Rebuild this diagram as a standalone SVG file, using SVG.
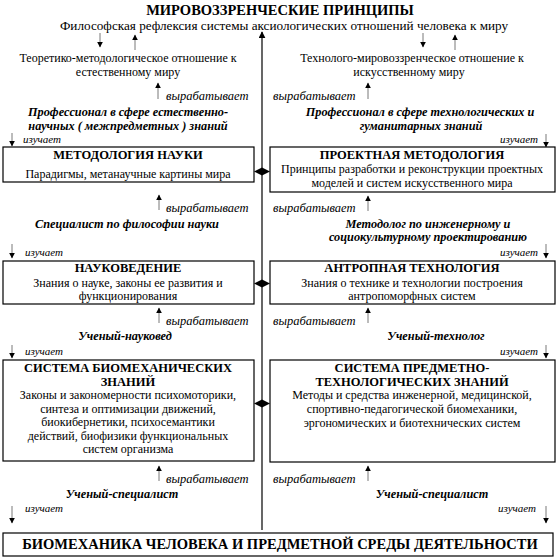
<svg xmlns="http://www.w3.org/2000/svg" width="560" height="560" viewBox="0 0 560 560">
<defs>
<style>
text{font-family:"Liberation Serif","Times New Roman",serif;fill:#000}
.h{font-size:14.5px;font-weight:bold}
.bt{font-size:12.5px;font-weight:bold}
.t{font-size:12px}
.sub{font-size:13.2px}
.bi{font-size:12.3px;font-weight:bold;font-style:italic}
.i{font-size:12.5px;font-style:italic}
.si{font-size:11px;font-style:italic}
.c{text-anchor:middle}
.e{text-anchor:end}
.box{fill:#fff;stroke:#000;stroke-width:1.2}
.ar{stroke:#555;stroke-width:0.8;fill:none}
.main{stroke:#000;stroke-width:1.2;fill:none}
.dm{fill:#000;stroke:none}
</style>
<marker id="ah" viewBox="0 0 10 10" refX="9" refY="5" markerWidth="6" markerHeight="6" markerUnits="userSpaceOnUse" orient="auto">
<path d="M0,0 L10,5 L0,10 z" fill="#000"/>
</marker>
<marker id="ahm" viewBox="0 0 10 10" refX="9" refY="5" markerWidth="7" markerHeight="7" markerUnits="userSpaceOnUse" orient="auto">
<path d="M0,0 L10,5 L0,10 z" fill="#000"/>
</marker>
</defs>

<g id="header">
<text class="h c" x="280" y="15">МИРОВОЗЗРЕНЧЕСКИЕ ПРИНЦИПЫ</text>
<text class="sub c" x="284" y="30">Философская рефлексия системы аксиологических отношений человека к миру</text>
</g>

<g id="connectors">
<line class="main" x1="262" y1="530" x2="262" y2="32" marker-end="url(#ahm)"/>
<polygon class="dm" points="254,171.5 262,167.5 270,171.5 262,175.5"/>
<polygon class="dm" points="254,283.5 262,279.5 270,283.5 262,287.5"/>
<polygon class="dm" points="254,403.5 262,399.5 270,403.5 262,407.5"/>
<line class="ar" x1="100" y1="33" x2="100" y2="47" marker-end="url(#ah)"/>
<line class="ar" x1="135" y1="50" x2="135" y2="35" marker-end="url(#ah)"/>
<line class="ar" x1="423" y1="33" x2="423" y2="47" marker-end="url(#ah)"/>
<line class="ar" x1="455" y1="50" x2="455" y2="35" marker-end="url(#ah)"/>
<line class="ar" x1="158" y1="99" x2="158" y2="83" marker-end="url(#ah)"/>
<line class="ar" x1="368" y1="99" x2="368" y2="83" marker-end="url(#ah)"/>
<line class="ar" x1="12" y1="133" x2="12" y2="146" marker-end="url(#ah)"/>
<line class="ar" x1="546" y1="134" x2="546" y2="147" marker-end="url(#ah)"/>
<line class="ar" x1="159" y1="210" x2="159" y2="195" marker-end="url(#ah)"/>
<line class="ar" x1="368" y1="211" x2="368" y2="196" marker-end="url(#ah)"/>
<line class="ar" x1="12" y1="244" x2="12" y2="258" marker-end="url(#ah)"/>
<line class="ar" x1="546" y1="244" x2="546" y2="258" marker-end="url(#ah)"/>
<line class="ar" x1="159" y1="323" x2="159" y2="308" marker-end="url(#ah)"/>
<line class="ar" x1="368" y1="323" x2="368" y2="308" marker-end="url(#ah)"/>
<line class="ar" x1="12" y1="345" x2="12" y2="358" marker-end="url(#ah)"/>
<line class="ar" x1="546" y1="345" x2="546" y2="358" marker-end="url(#ah)"/>
<line class="ar" x1="159" y1="481" x2="159" y2="466" marker-end="url(#ah)"/>
<line class="ar" x1="368" y1="481" x2="368" y2="466" marker-end="url(#ah)"/>
<line class="ar" x1="12" y1="506" x2="12" y2="523" marker-end="url(#ah)"/>
<line class="ar" x1="546" y1="506" x2="546" y2="523" marker-end="url(#ah)"/>
</g>

<g id="attitude-left">
<text class="t c" x="128" y="62">Теоретико-методологическое отношение к</text>
<text class="t c" x="128" y="76">естественному миру</text>
</g>
<g id="attitude-right">
<text class="t c" x="412" y="62">Технолого-мировоззренческое отношение к</text>
<text class="t c" x="409" y="76">искусственному миру</text>
</g>

<g id="labels">
<text class="i" x="166" y="100">вырабатывает</text>
<text class="i" x="273" y="100">вырабатывает</text>
<text class="bi c" x="128" y="116">Профессионал в сфере естественно-</text>
<text class="bi c" x="128" y="130">научных ( межпредметных ) знаний</text>
<text class="bi c" x="420" y="116">Профессионал в сфере технологических и</text>
<text class="bi c" x="421" y="130">гуманитарных знаний</text>
<text class="si" x="23" y="143">изучает</text>
<text class="si e" x="538" y="143">изучает</text>

<text class="i" x="166" y="212">вырабатывает</text>
<text class="i" x="273" y="212">вырабатывает</text>
<text class="bi c" x="127" y="228">Специалист по философии науки</text>
<text class="bi c" x="428" y="228">Методолог по инженерному и</text>
<text class="bi c" x="428" y="241">социокультурному проектированию</text>
<text class="si" x="25" y="256">изучает</text>
<text class="si e" x="538" y="256">изучает</text>

<text class="i" x="166" y="325">вырабатывает</text>
<text class="i" x="273" y="325">вырабатывает</text>
<text class="bi c" x="125" y="340">Ученый-науковед</text>
<text class="bi c" x="436" y="340">Ученый-технолог</text>
<text class="si" x="25" y="355">изучает</text>
<text class="si e" x="538" y="355">изучает</text>

<text class="i" x="166" y="483">вырабатывает</text>
<text class="i" x="273" y="483">вырабатывает</text>
<text class="bi c" x="122" y="498">Ученый-специалист</text>
<text class="bi c" x="432" y="498">Ученый-специалист</text>
<text class="si" x="25" y="512">изучает</text>
<text class="si e" x="536" y="512">изучает</text>
</g>

<g id="metodologia-nauki">
<rect class="box" x="3" y="147" width="251" height="35"/>
<text class="bt c" x="128" y="159">МЕТОДОЛОГИЯ НАУКИ</text>
<text class="t c" x="128" y="178">Парадигмы, метанаучные картины мира</text>
</g>
<g id="proektnaya-metodologia">
<rect class="box" x="270" y="147" width="285" height="45"/>
<text class="bt c" x="412" y="159">ПРОЕКТНАЯ МЕТОДОЛОГИЯ</text>
<text class="t c" x="412" y="173">Принципы разработки и реконструкции проектных</text>
<text class="t c" x="412" y="187">моделей и систем искусственного мира</text>
</g>
<g id="naukovedenie">
<rect class="box" x="3" y="261" width="251" height="43"/>
<text class="bt c" x="128" y="272">НАУКОВЕДЕНИЕ</text>
<text class="t c" x="128" y="287">Знания о науке, законы ее развития и</text>
<text class="t c" x="128" y="300">функционирования</text>
</g>
<g id="antropnaya-tehnologia">
<rect class="box" x="270" y="261" width="285" height="43"/>
<text class="bt c" x="412" y="272">АНТРОПНАЯ ТЕХНОЛОГИЯ</text>
<text class="t c" x="412" y="287">Знания о технике и технологии построения</text>
<text class="t c" x="412" y="300">антропоморфных систем</text>
</g>
<g id="sistema-biomeh">
<rect class="box" x="3" y="360" width="251" height="101"/>
<text class="bt c" x="128" y="372">СИСТЕМА БИОМЕХАНИЧЕСКИХ</text>
<text class="bt c" x="128" y="385.5">ЗНАНИЙ</text>
<text class="t c" x="128" y="399">Законы и закономерности психомоторики,</text>
<text class="t c" x="128" y="412.5">синтеза и оптимизации движений,</text>
<text class="t c" x="128" y="426">биокибернетики, психосемантики</text>
<text class="t c" x="128" y="439.5">действий, биофизики функциональных</text>
<text class="t c" x="128" y="453">систем организма</text>
</g>
<g id="sistema-predmetno">
<rect class="box" x="270" y="360" width="285" height="102"/>
<text class="bt c" x="412" y="372">СИСТЕМА ПРЕДМЕТНО-</text>
<text class="bt c" x="412" y="385.5">ТЕХНОЛОГИЧЕСКИХ ЗНАНИЙ</text>
<text class="t c" x="412" y="399">Методы и средства инженерной, медицинской,</text>
<text class="t c" x="412" y="412.5">спортивно-педагогической биомеханики,</text>
<text class="t c" x="412" y="427">эргономических и биотехнических систем</text>
</g>
<g id="biomehanika">
<rect class="box" x="3" y="533" width="550" height="23"/>
<text class="h c" x="280" y="549">БИОМЕХАНИКА ЧЕЛОВЕКА И ПРЕДМЕТНОЙ СРЕДЫ ДЕЯТЕЛЬНОСТИ</text>
</g>
</svg>
